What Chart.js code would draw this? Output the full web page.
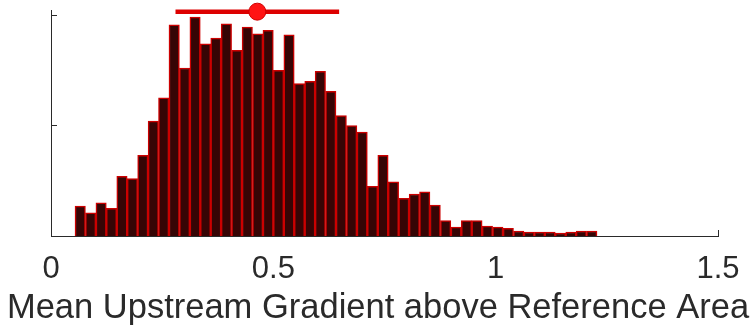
<!DOCTYPE html>
<html>
<head>
<meta charset="utf-8">
<script src="https://cdn.jsdelivr.net/npm/chart.js@4"></script>
<style>
  html, body { margin: 0; padding: 0; background: #fff; }
  #wrap { width: 756px; height: 330px; }
</style>
</head>
<body>
<div id="wrap"><canvas id="hist"></canvas></div>
<script>
// histogram bin centres (x) and counts
const binCenters = [
  0.0657, 0.0892, 0.1127, 0.1361, 0.1596, 0.1831, 0.2066, 0.2301, 0.2535, 0.2770,
  0.3005, 0.3240, 0.3475, 0.3709, 0.3944, 0.4179, 0.4414, 0.4649, 0.4883, 0.5118,
  0.5353, 0.5588, 0.5823, 0.6057, 0.6292, 0.6527, 0.6762, 0.6997, 0.7231, 0.7466,
  0.7701, 0.7936, 0.8171, 0.8405, 0.8640, 0.8875, 0.9110, 0.9345, 0.9579, 0.9814,
  1.0049, 1.0284, 1.0519, 1.0753, 1.0988, 1.1223, 1.1458, 1.1693, 1.1927, 1.2162
];
const counts = [
  27, 21, 30, 25, 54, 52, 73, 104, 125, 191,
  152, 198, 174, 179, 192, 168, 189, 183, 186, 150,
  182, 138, 140, 149, 131, 109, 100, 94, 45, 73,
  49, 34, 38, 40, 28, 14, 8, 14, 14, 9,
  8, 7, 4.5, 3.6, 3.6, 3.6, 2.7, 3.6, 4.5, 4.5
];

// mean and range marker drawn above the histogram
const meanValue = 0.464;
const rangeLow = 0.280;
const rangeHigh = 0.648;
const markerLevel = 203;

const xTicks = [0, 0.5, 1, 1.5];
const xTickText = ['0', '0.5', '1', '1.5'];
const yTicks = [0, 100, 200];
const xLabel = 'Mean Upstream Gradient above Reference Area';

const axisColor = '#2a2a2a';
const fontFamily = '"Liberation Sans", Arial, Helvetica, sans-serif';

// MATLAB-style ticks pointing into the plot
const inwardTicks = {
  id: 'inwardTicks',
  beforeDatasetsDraw(chart) {
    const { ctx, chartArea, scales } = chart;
    ctx.save();
    ctx.strokeStyle = axisColor;
    ctx.lineWidth = 1;
    ctx.beginPath();
    xTicks.forEach(v => {
      const px = Math.round(scales.x.getPixelForValue(v)) + 0.5;
      ctx.moveTo(px, chartArea.bottom);
      ctx.lineTo(px, chartArea.bottom - 6);
    });
    yTicks.forEach(v => {
      const py = Math.round(scales.y.getPixelForValue(v)) + 0.5;
      ctx.moveTo(chartArea.left, py);
      ctx.lineTo(chartArea.left + 6, py);
    });
    ctx.stroke();
    ctx.restore();
  }
};

new Chart(document.getElementById('hist').getContext('2d'), {
  type: 'bar',
  data: {
    datasets: [
      {
        type: 'scatter',
        data: [{ x: meanValue, y: markerLevel }],
        pointRadius: 8.5,
        pointBackgroundColor: '#ff1414',
        pointBorderColor: '#d00000',
        pointBorderWidth: 1,
        clip: false,
        order: 0
      },
      {
        type: 'line',
        data: [{ x: rangeLow, y: markerLevel }, { x: rangeHigh, y: markerLevel }],
        borderColor: '#dd0000',
        borderWidth: 4.5,
        pointRadius: 0,
        clip: false,
        order: 1
      },
      {
        data: binCenters.map((x, i) => ({ x: x, y: counts[i] })),
        backgroundColor: '#360505',
        borderColor: '#cc0000',
        borderWidth: 1.5,
        barPercentage: 1,
        categoryPercentage: 1,
        order: 2
      }
    ]
  },
  options: {
    responsive: true,
    maintainAspectRatio: false,
    animation: false,
    events: [],
    layout: { padding: { left: 0, right: 0, top: 10, bottom: 0 } },
    plugins: {
      legend: { display: false },
      tooltip: { enabled: false },
      title: {
        display: true,
        position: 'bottom',
        text: xLabel,
        color: axisColor,
        padding: { top: 2, bottom: 0.6 },
        font: { family: fontFamily, size: 34.5, weight: 'normal' }
      }
    },
    scales: {
      x: {
        type: 'linear',
        offset: false,
        min: 0,
        max: 1.5,
        afterBuildTicks: scale => { scale.ticks = xTicks.map(v => ({ value: v })); },
        afterFit: scale => { scale.height = 50; },
        grid: { display: false, drawTicks: false },
        border: { display: true, color: axisColor, width: 1 },
        ticks: {
          padding: 15,
          color: axisColor,
          font: { family: fontFamily, size: 31 },
          callback: (v, i) => xTickText[i]
        }
      },
      y: {
        min: 0,
        max: 204.5,
        afterBuildTicks: scale => { scale.ticks = yTicks.map(v => ({ value: v })); },
        afterFit: scale => { scale.width = 51; },
        grid: { display: false, drawTicks: false },
        border: { display: true, color: axisColor, width: 1 },
        ticks: { display: false }
      },
      // empty right-hand axis, only reserves the margin right of the plot
      yRight: {
        position: 'right',
        afterFit: scale => { scale.width = 38; },
        grid: { display: false, drawTicks: false },
        border: { display: false },
        ticks: { display: false }
      }
    }
  },
  plugins: [inwardTicks]
});
</script>
</body>
</html>
